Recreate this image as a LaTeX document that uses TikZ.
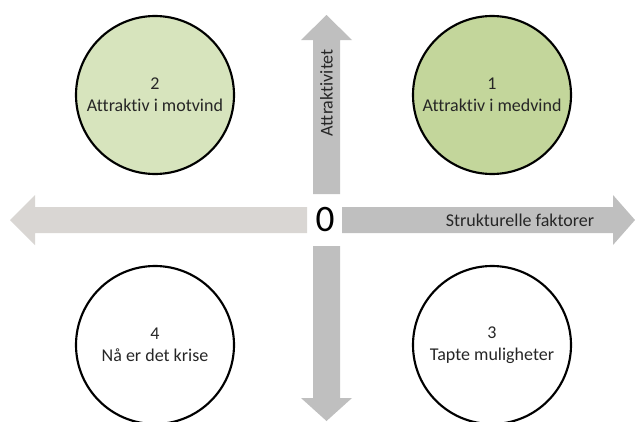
\documentclass[tikz,border=0pt]{standalone}
\usepackage{fontspec}
\setmainfont{Carlito}[Ligatures=NoCommon]
\usepackage{xcolor}
\usetikzlibrary{positioning}

\definecolor{axislight}{RGB}{217,214,211}
\definecolor{axisgray}{RGB}{191,191,191}
\definecolor{greenlight}{RGB}{215,228,189}
\definecolor{greenmid}{RGB}{195,214,155}

\begin{document}
\begin{tikzpicture}[
  x=0.75pt, y=-0.75pt,
  quadrant/.style={draw, circle, line width=1.6pt, minimum size=158pt*0.75, inner sep=0pt, align=center, font=\fontsize{13.5}{16.5}\selectfont, text=black!85},
  axislabel/.style={font=\fontsize{13.5}{15}\selectfont, text=black!85, inner sep=0pt}
]
\useasboundingbox (0,0) rectangle (635,421);

% Axes (block arrows)
\fill[axislight] (35,207) -- (307,207) -- (307,233) -- (35,233) -- (35,245) -- (10,220) -- (35,195) -- cycle;
\fill[axisgray] (342,207) -- (613,207) -- (613,195) -- (635,220) -- (613,245) -- (613,233) -- (342,233) -- cycle;
\fill[axisgray] (313,194) -- (313,40) -- (301,40) -- (326.5,15) -- (352,40) -- (340,40) -- (340,194) -- cycle;
\fill[axisgray] (313,246) -- (313,398) -- (301,398) -- (326.5,421) -- (352,398) -- (340,398) -- (340,246) -- cycle;

% Origin and axis names
\node[inner sep=0pt, font=\fontsize{28}{30}\selectfont] (origo) at (325,220) {0};
\node[axislabel] (xname) at (520,220) {Strukturelle faktorer};
\node[axislabel, rotate=90] (yname) at (326.5,93) {Attraktivitet};

% Quadrants
\node[quadrant, fill=greenmid] (q1) at (492,95) {1\\Attraktiv i medvind};
\node[quadrant, fill=greenlight] (q2) at (155,95) {2\\Attraktiv i motvind};
\node[quadrant] (q3) at (492,345) {3\\Tapte muligheter};
\node[quadrant] (q4) at (155,345) {4\\Nå er det krise};

\end{tikzpicture}
\end{document}
